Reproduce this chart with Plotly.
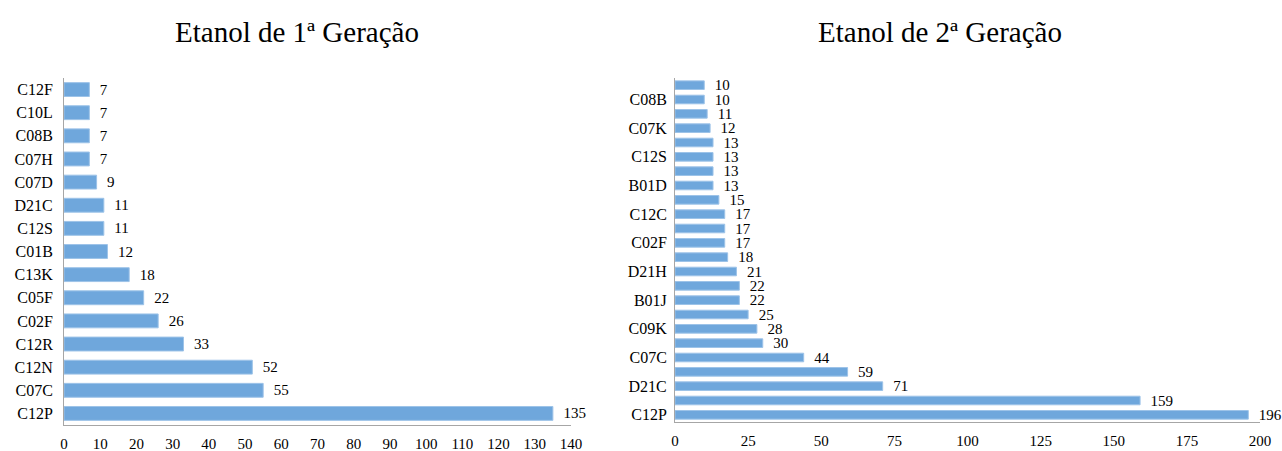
import plotly.graph_objects as go

# Etanol de 1ª Geração (bottom to top)
cat1 = ["C12P", "C07C", "C12N", "C12R", "C02F", "C05F", "C13K", "C01B",
        "C12S", "D21C", "C07D", "C07H", "C08B", "C10L", "C12F"]
val1 = [135, 55, 52, 33, 26, 22, 18, 12, 11, 11, 9, 7, 7, 7, 7]
ticks1 = list(range(0, 141, 10))

# Etanol de 2ª Geração (bottom to top); only every other label is shown in the original
cat2 = ["C12P", "n/d 1", "D21C", "n/d 2", "C07C", "n/d 3", "C09K", "n/d 4",
        "B01J", "n/d 5", "D21H", "n/d 6", "C02F", "n/d 7", "C12C", "n/d 8",
        "B01D", "n/d 9", "C12S", "n/d 10", "C07K", "n/d 11", "C08B", "n/d 12"]
val2 = [196, 159, 71, 59, 44, 30, 28, 25, 22, 22, 21, 18, 17, 17, 17, 15,
        13, 13, 13, 13, 12, 11, 10, 10]
shown2 = ["C12P", "D21C", "C07C", "C09K", "B01J", "D21H", "C02F", "C12C",
          "B01D", "C12S", "C07K", "C08B"]
ticks2 = list(range(0, 201, 25))

FONT = "Liberation Serif, Times New Roman, serif"
BAR = "#6fa7dc"
AX = "#a6a6a6"
W, H = 1282, 451

def labels(vals):
    return ["\u2002" + str(v) for v in vals]

fig = go.Figure()
fig.add_trace(go.Bar(
    x=val1, y=cat1, orientation="h", xaxis="x", yaxis="y",
    marker=dict(color=BAR, line=dict(color="#9dc3e8", width=1)),
    text=labels(val1), textposition="outside", constraintext="none",
    textfont=dict(family=FONT, size=15, color="black"),
    cliponaxis=False, showlegend=False,
))
fig.add_trace(go.Bar(
    x=val2, y=cat2, orientation="h", xaxis="x2", yaxis="y2",
    marker=dict(color=BAR, line=dict(color="#9dc3e8", width=1)),
    text=labels(val2), textposition="outside", constraintext="none",
    textfont=dict(family=FONT, size=15, color="black"),
    cliponaxis=False, showlegend=False,
))

fig.update_layout(
    width=W, height=H,
    margin=dict(l=0, r=0, t=0, b=0, autoexpand=False),
    paper_bgcolor="white", plot_bgcolor="white",
    font=dict(family=FONT, size=15, color="black"),
    uniformtext=dict(minsize=15, mode="show"),
    bargap=0.4,
    xaxis=dict(domain=[64 / W, 571 / W], range=[0, 140], tickvals=ticks1,
               showgrid=False, zeroline=False, showline=True, linecolor=AX,
               ticks="", ticklabelstandoff=5,
               tickfont=dict(family=FONT, size=15), anchor="y"),
    yaxis=dict(domain=[1 - 425 / H, 1 - 78 / H], type="category", showgrid=False,
               showline=True, linecolor=AX, ticks="", ticklabelstandoff=7,
               tickfont=dict(family=FONT, size=16), anchor="x"),
    xaxis2=dict(domain=[675 / W, 1260 / W], range=[0, 200], tickvals=ticks2,
                showgrid=False, zeroline=False, showline=True, linecolor=AX,
                ticks="", ticklabelstandoff=5,
                tickfont=dict(family=FONT, size=15), anchor="y2"),
    yaxis2=dict(domain=[1 - 422 / H, 1 - 78 / H], type="category", showgrid=False,
                showline=True, linecolor=AX, ticks="",
                tickmode="array", tickvals=shown2, ticktext=shown2,
                ticklabelstandoff=4,
                tickfont=dict(family=FONT, size=16), anchor="x2"),
    annotations=[
        dict(text="Etanol de 1ª Geração", x=297 / W, y=1 - 32 / H,
             xref="paper", yref="paper", xanchor="center", yanchor="middle",
             showarrow=False, font=dict(family=FONT, size=29, color="black")),
        dict(text="Etanol de 2ª Geração", x=940 / W, y=1 - 32 / H,
             xref="paper", yref="paper", xanchor="center", yanchor="middle",
             showarrow=False, font=dict(family=FONT, size=29, color="black")),
    ],
)

fig.write_html("out.html")
